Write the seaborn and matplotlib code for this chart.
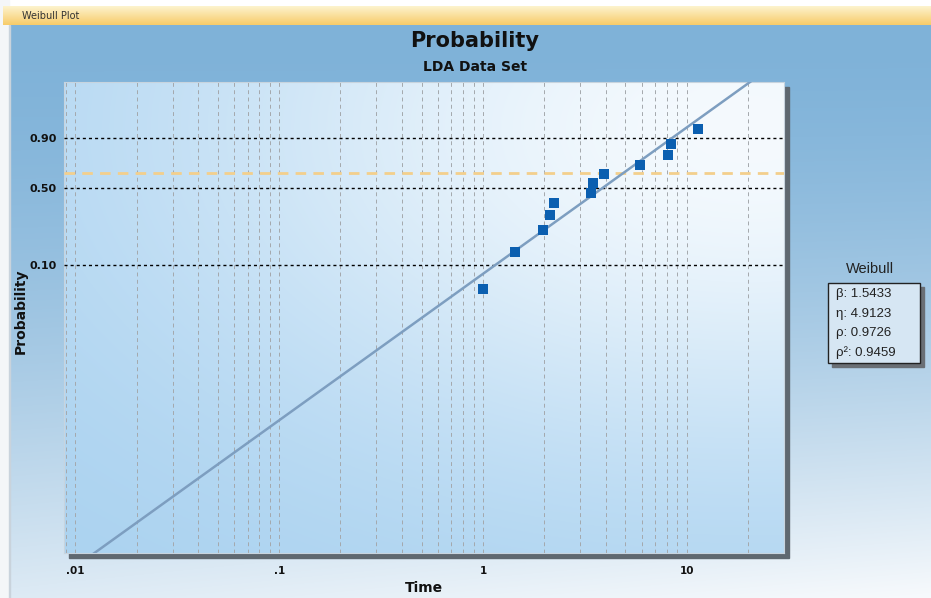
import numpy as np
import pandas as pd
import seaborn as sns
import matplotlib.pyplot as plt
from matplotlib.patches import Rectangle
from matplotlib.ticker import LogLocator, FixedLocator, FixedFormatter, NullFormatter

# Failure times and median-rank probabilities
times = [1.0, 1.43, 1.97, 2.13, 2.22, 3.38, 3.45, 3.92, 5.91, 8.05, 8.33, 11.3]
probs = [0.057, 0.137, 0.218, 0.298, 0.379, 0.460, 0.540, 0.621, 0.702, 0.782, 0.863, 0.944]

# Weibull fit parameters
beta = 1.5433
eta = 4.9123
rho = 0.9726
rho2 = 0.9459

prob_ticks = [0.10, 0.50, 0.90]
prob_labels = ['0.10', '0.50', '0.90']
time_ticks = [0.01, 0.1, 1, 10]
time_labels = ['.01', '.1', '1', '10']
char_life = 1 - np.exp(-1)   # 63.2% line

x_range = (0.0088, 30)
y_range = (9.8e-5, 0.99988)

stats_lines = [f'\u03b2: {beta:.4f}', f'\u03b7: {eta:.4f}', f'\u03c1: {rho:.4f}', f'\u03c1\u00b2: {rho2:.4f}']

data = pd.DataFrame({'Time': times, 'Probability': probs})
t_fit = np.geomspace(x_range[0], x_range[1], 60)
fit = pd.DataFrame({'Time': t_fit, 'Probability': 1 - np.exp(-(t_fit / eta) ** beta)})

sns.set_style('white')
plt.rcParams['font.family'] = ['DejaVu Sans']

W, H = 931, 598
fig = plt.figure(figsize=(W / 100, H / 100), dpi=100)

# figure background gradient
bg = fig.add_axes([0, 0, 1, 1], zorder=0)
yy, xx = np.mgrid[0:1:H * 1j, 0:1:W * 1j]
s = np.clip((yy - 0.08) / 0.92, 0, 1) ** 1.5 * (0.78 + 0.22 * xx)
blue = np.array([0.50, 0.70, 0.85])
white = np.array([0.97, 0.98, 0.99])
img = blue[None, None, :] * (1 - s[..., None]) + white[None, None, :] * s[..., None]
bg.imshow(img, extent=[0, 1, 0, 1], aspect='auto', origin='upper')
bg.set_xlim(0, 1)
bg.set_ylim(0, 1)
bg.set_axis_off()

# window borders and title bar
bg.add_patch(Rectangle((0, 1 - 6 / H), 1, 6 / H, color='white', zorder=3))
bg.add_patch(Rectangle((0, 0), 9 / W, 1, color='#f4f6f8', zorder=3))
bg.add_patch(Rectangle((9 / W, 0), 1 / W, 1 - 25 / H, color='#c9d3dc', zorder=3))
ramp = np.linspace(0, 1, 20)[:, None, None]
bar = ramp * np.array([0.97, 0.80, 0.42]) + (1 - ramp) * np.array([0.99, 0.95, 0.80])
bar = np.repeat(bar, 2, axis=1)
bg.imshow(bar, extent=[3 / W, 1, 1 - 25 / H, 1 - 6 / H], aspect='auto', origin='upper', zorder=4)
bg.text(22 / W, 1 - 16 / H, 'Weibull Plot', fontsize=7, color='#333333', va='center', zorder=5)

# plot area with shadow and gradient
pos = [64 / W, 45 / H, 720 / W, 471 / H]
bg.add_patch(Rectangle((69 / W, 40 / H), 720 / W, 471 / H, color='#5f6870', zorder=2))
pbg = fig.add_axes(pos, zorder=1)
py, px = np.mgrid[1:0:300j, 0:1:500j]
d2 = ((px - 0.95) / 0.8) ** 2 + ((py - 0.9) / 0.7) ** 2
m = np.exp(-d2)
c_lo = np.array([0.66, 0.82, 0.94])
c_hi = np.array([0.96, 0.98, 0.995])
pimg = c_lo[None, None, :] * (1 - m[..., None]) + c_hi[None, None, :] * m[..., None]
pbg.imshow(pimg, extent=[0, 1, 0, 1], aspect='auto', origin='upper')
pbg.set_axis_off()

ax = fig.add_axes(pos, zorder=2)
ax.patch.set_alpha(0)


def fwd(p):
    p = np.clip(p, 1e-12, 1 - 1e-15)
    return np.log(-np.log(1 - p))


def inv(w):
    return 1 - np.exp(-np.exp(w))


sns.lineplot(data=fit, x='Time', y='Probability', ax=ax, color='#7d9ec0', lw=1.8,
             sort=False, estimator=None, zorder=4)
sns.scatterplot(data=data, x='Time', y='Probability', ax=ax, marker='s', s=44,
                color='#0b5fb0', linewidth=0, zorder=5)

ax.set_xscale('log')
ax.set_yscale('function', functions=(fwd, inv))
ax.set_xlim(*x_range)
ax.set_ylim(*y_range)

for p in prob_ticks:
    ax.axhline(p, color='black', lw=1.0, ls=(0, (2.2, 2.2)), zorder=3)
ax.axhline(char_life, color='#f3cf8c', lw=2, ls=(0, (3.8, 2.6)), zorder=3)

ax.xaxis.set_major_locator(FixedLocator(time_ticks))
ax.xaxis.set_major_formatter(FixedFormatter(time_labels))
ax.xaxis.set_minor_locator(LogLocator(base=10, subs=np.arange(2, 10), numticks=20))
ax.xaxis.set_minor_formatter(NullFormatter())
ax.grid(True, axis='x', which='both', color='#a4a8ac', lw=0.7, ls=(0, (4, 3.5)), zorder=1)
ax.set_axisbelow(True)
ax.tick_params(axis='x', which='major', direction='out', length=7, width=0.7, color='#888888',
               pad=2, labelsize=7.5, labelcolor='#111111')
ax.tick_params(axis='x', which='minor', length=0)
for lab in ax.get_xticklabels():
    lab.set_fontweight('bold')

ax.yaxis.set_major_locator(FixedLocator(prob_ticks))
ax.yaxis.set_major_formatter(FixedFormatter(prob_labels))
ax.yaxis.set_minor_locator(FixedLocator([]))
ax.tick_params(axis='y', which='both', length=0, pad=5, labelsize=8, labelcolor='#111111')
for lab in ax.get_yticklabels():
    lab.set_fontweight('bold')

for sp in ax.spines.values():
    sp.set_color('#c8d4de')
    sp.set_linewidth(0.8)

ax.set_xlabel('Time', fontsize=10, fontweight='bold', color='#111111')
ax.xaxis.set_label_coords(0.5, -(581 - 553) / 471)
ax.set_ylabel('Probability', fontsize=10, fontweight='bold', color='#111111')
ax.yaxis.set_label_coords(-0.05, 0.514)

fig.text(475 / W, 1 - 47 / H, 'Probability', fontsize=15, fontweight='bold', ha='center',
         va='baseline', color='#111111')
fig.text(475 / W, 1 - 71 / H, 'LDA Data Set', fontsize=10, fontweight='bold', ha='center',
         va='baseline', color='#111111')

# parameter box
lx0, ly0, lx1, ly1 = 828, 283, 920, 363
bg.add_patch(Rectangle(((lx0 + 4) / W, 1 - (ly1 + 4) / H), (lx1 - lx0) / W, (ly1 - ly0) / H,
                       color='#6a6f75', zorder=5))
bg.add_patch(Rectangle((lx0 / W, 1 - ly1 / H), (lx1 - lx0) / W, (ly1 - ly0) / H,
                       facecolor='#d6e6f3', edgecolor='#222222', lw=1, zorder=6))
bg.text(870 / W, 1 - 269 / H, 'Weibull', fontsize=10.5, ha='center', va='center',
        color='#222222', family='Liberation Sans', zorder=7)
for i, line in enumerate(stats_lines):
    bg.text(836 / W, 1 - (294 + i * 19.6) / H, line, fontsize=9.5, ha='left', va='center',
            color='#222222', family='Liberation Sans', zorder=7)

plt.savefig('out.png', dpi=100)
plt.close()
